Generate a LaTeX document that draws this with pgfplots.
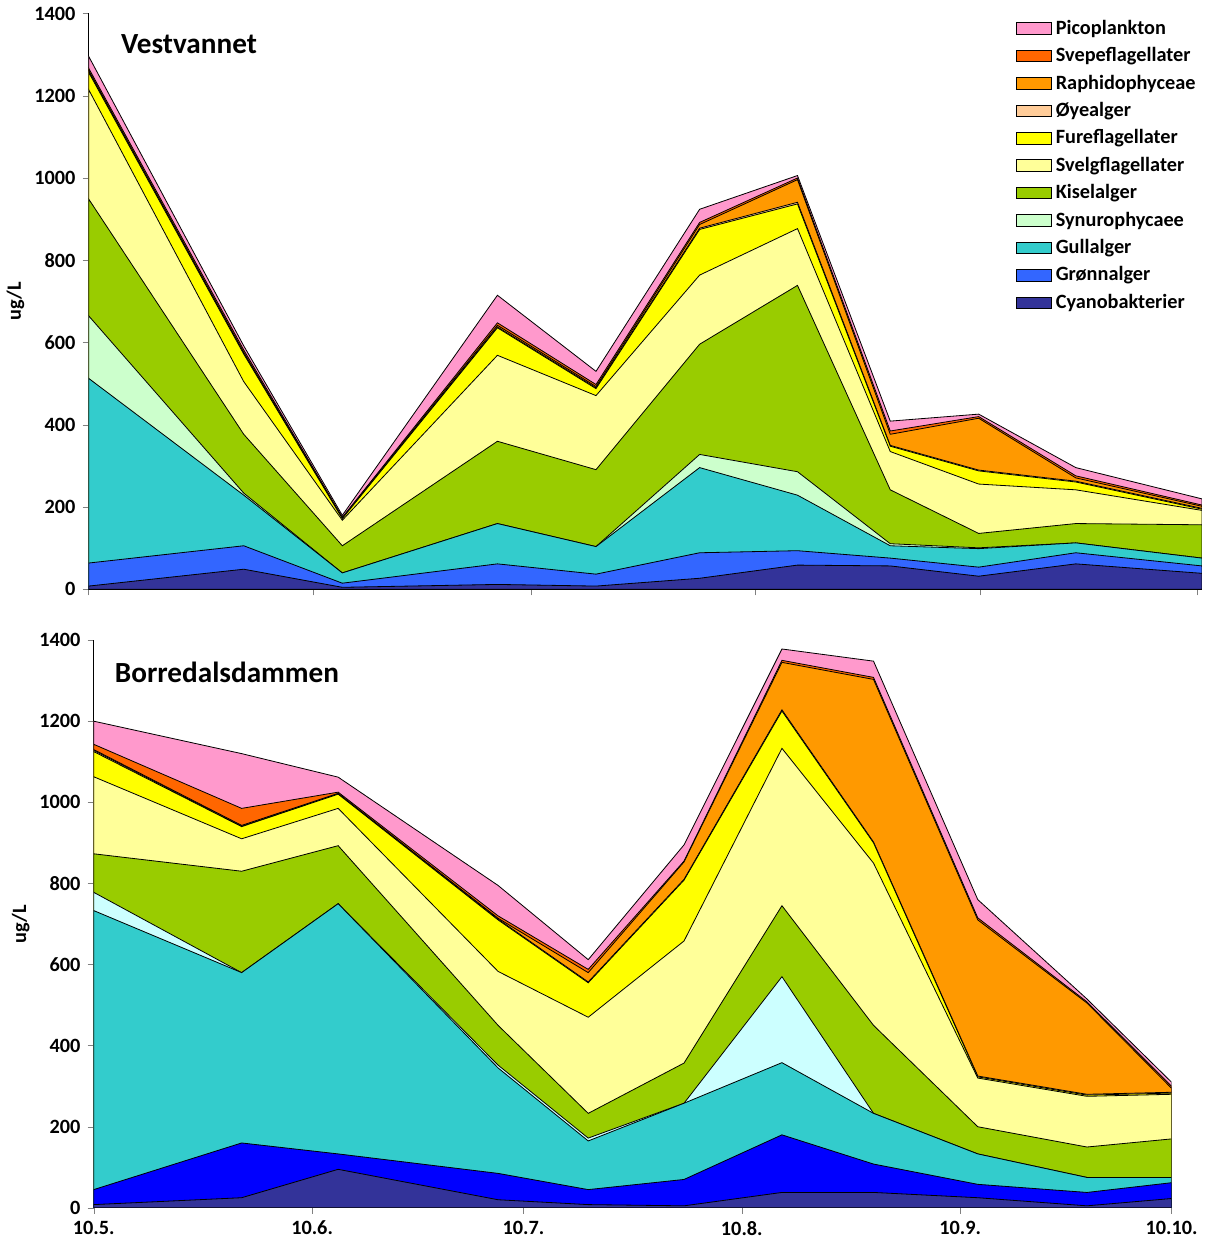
\documentclass[border=0pt]{standalone}
\usepackage{pgfplots}
\pgfplotsset{compat=1.18}
\usepackage{pgfplotstable}
\usepackage{fontspec}
\setmainfont{Carlito}
\definecolor{cya}{HTML}{333399}
\definecolor{gro}{HTML}{3366FF}
\definecolor{grob}{HTML}{0000FF}
\definecolor{gul}{HTML}{33CCCC}
\definecolor{syn}{HTML}{CCFFCC}
\definecolor{synb}{HTML}{CCFFFF}
\definecolor{kis}{HTML}{99CC00}
\definecolor{sve}{HTML}{FFFF99}
\definecolor{fur}{HTML}{FFFF00}
\definecolor{oye}{HTML}{FFCC99}
\definecolor{rap}{HTML}{FF9900}
\definecolor{svp}{HTML}{FF6600}
\definecolor{pic}{HTML}{FF99CC}
% cumulative values
\pgfplotstableread{
x cya gro gul syn kis sve fur oye rap svp pic
0 8 64 513 665 949 1215 1257 1260 1262 1267 1296
21.4 49 106 229 234 377 505 572 575 576 582 592
35 5 15 40 40 106 168 172 173 174 175 180
56.4 12 62 160 160 360 569 636 638 642 648 715
70 8 37 104 104 291 471 488 490 493 498 530
84.3 27 89 296 328 596 764 875 878 887 892 924
97.8 59 94 229 286 739 877 937 941 996 1000 1006
110.6 57 76 106 111 242 335 348 350 377 385 409
122.8 32 54 99 101 136 256 288 290 416 420 426
136.2 62 89 113 113 160 242 261 263 271 276 296
153.6 39 57 76 76 157 192 195 197 202 205 220
}\toptab
\pgfplotstableread{
x cya gro gul syn kis sve fur oye rap svp pic
0 8 45 733 778 873 1063 1125 1128 1130 1143 1200
21 25 160 580 580 830 910 940 941 943 985 1120
34.7 95 133 750 750 893 985 1020 1021 1022 1025 1062
57.4 20 85 345 352 450 583 710 712 714 720 795
70.2 8 45 165 172 233 470 555 557 580 588 612
83.8 5 70 258 258 357 658 808 810 853 855 895
97.7 38 180 358 570 745 1133 1225 1228 1345 1350 1378
110.7 38 108 233 233 450 850 900 902 1303 1308 1348
125.5 25 58 133 133 200 320 323 325 710 715 760
141 5 38 75 75 150 275 278 280 505 508 515
153 23 62 75 75 170 280 283 285 295 300 310
}\bottab
\pgfplotsset{every axis/.style={scale only axis, xmin=0, ymin=0, ymax=1400,
  axis lines=left, axis line style={-, black},
  ytick={0,200,...,1400}, xtick={0,31,61,92,123,153},
  tick align=outside, xtick pos=bottom, ytick pos=left,
  yticklabel style={font=\bfseries}, xticklabel style={font=\bfseries},
  /pgf/number format/assume math mode=true, /pgf/number format/1000 sep={},
  ylabel={\bfseries ug/L}, ylabel style={yshift=-2pt},
  major tick length=3pt}}
\newcommand{\layers}[3]{%
  \addplot[fill=pic,draw=black,line width=0.4pt] table[y=pic]{#1}\closedcycle;
  \addplot[fill=svp,draw=black] table[y=svp]{#1}\closedcycle;
  \addplot[fill=rap,draw=black] table[y=rap]{#1}\closedcycle;
  \addplot[fill=oye,draw=black] table[y=oye]{#1}\closedcycle;
  \addplot[fill=fur,draw=black] table[y=fur]{#1}\closedcycle;
  \addplot[fill=sve,draw=black] table[y=sve]{#1}\closedcycle;
  \addplot[fill=kis,draw=black] table[y=kis]{#1}\closedcycle;
  \addplot[fill=#3,draw=black] table[y=syn]{#1}\closedcycle;
  \addplot[fill=gul,draw=black] table[y=gul]{#1}\closedcycle;
  \addplot[fill=#2,draw=black] table[y=gro]{#1}\closedcycle;
  \addplot[fill=cya,draw=black] table[y=cya]{#1}\closedcycle;}
\begin{document}
\begin{tikzpicture}
\begin{axis}[at={(0pt,0pt)}, anchor=south west, width=549pt, height=284pt, xmax=153.6,
  xticklabels={}, area legend,
  legend style={draw=none, fill=none, at={(1,1)}, anchor=north east, font=\bfseries, row sep=1pt, cells={anchor=west}, inner sep=1pt}]
\layers{\toptab}{gro}{syn}
\legend{Picoplankton,Svepeflagellater,Raphidophyceae,Øyealger,Fureflagellater,Svelgflagellater,Kiselalger,Synurophycaee,Gullalger,Grønnalger,Cyanobakterier}
\node[anchor=west,font=\bfseries\Large] at (axis cs:3.5,1325) {Vestvannet};
\end{axis}
\begin{axis}[at={(2.5pt,-305pt)}, anchor=south west, width=531.5pt, height=280pt, xmax=153,
  xticklabels={10.5.,10.6.,10.7.,10.8.,10.9.,10.10.}]
\layers{\bottab}{grob}{synb}
\node[anchor=west,font=\bfseries\Large] at (axis cs:2,1320) {Borredalsdammen};
\end{axis}
\end{tikzpicture}
\end{document}
